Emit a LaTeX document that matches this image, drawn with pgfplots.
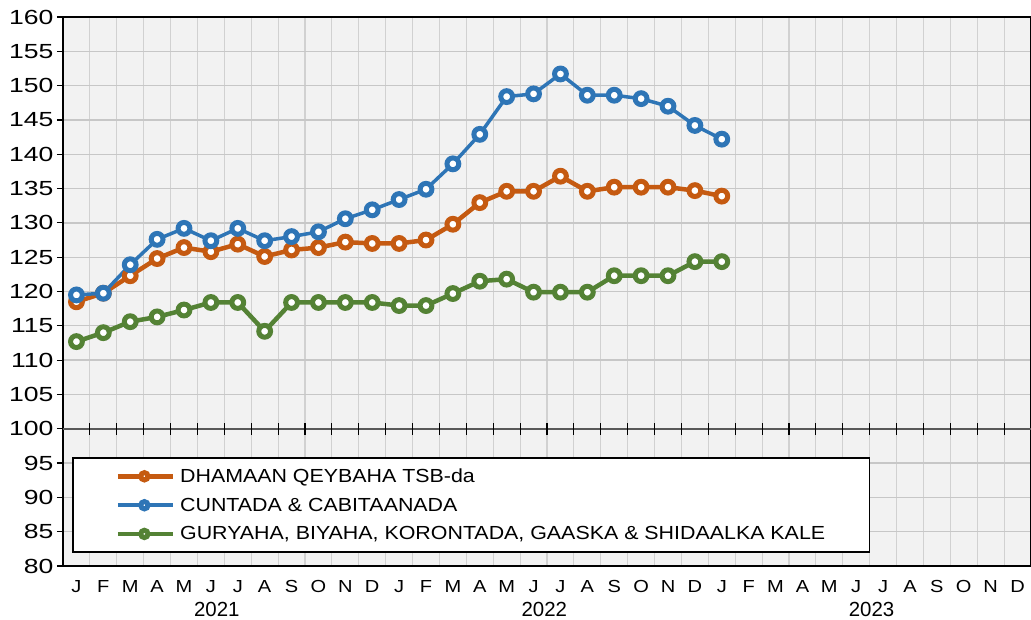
\documentclass[border=0pt]{standalone}
\usepackage{fontspec}
\setmainfont{Liberation Sans}
\usepackage{graphicx}
\usepackage{pgfplots}
\pgfplotsset{compat=1.18}
\definecolor{orangeS}{HTML}{C55A11}
\definecolor{blueS}{HTML}{2E75B6}
\definecolor{greenS}{HTML}{548235}
\definecolor{plotbg}{HTML}{F2F2F2}
\newcommand\mo[1]{\scalebox{1.15}[1]{#1}}
\newcommand\legtext[1]{\hspace{3bp}\scalebox{1.13}[1]{#1}}

\begin{document}
\begin{tikzpicture}
\useasboundingbox (-63bp,-54bp) rectangle (968bp,566bp);
\begin{axis}[
  at={(0,0)}, anchor=south west,
  width=968bp, height=549bp, scale only axis,
  xmin=0, xmax=36, ymin=80, ymax=160,
  clip=false,
  axis background/.style={fill=plotbg},
  axis line style={black, line width=1.3bp},
  xtick={0.5,1.5,...,35.5},
  xticklabels={\mo{J},\mo{F},\mo{M},\mo{A},\mo{M},\mo{J},\mo{J},\mo{A},\mo{S},\mo{O},\mo{N},\mo{D},
               \mo{J},\mo{F},\mo{M},\mo{A},\mo{M},\mo{J},\mo{J},\mo{A},\mo{S},\mo{O},\mo{N},\mo{D},
               \mo{J},\mo{F},\mo{M},\mo{A},\mo{M},\mo{J},\mo{J},\mo{A},\mo{S},\mo{O},\mo{N},\mo{D}},
  major x tick style={draw=none},
  minor xtick={1,...,35},
  xminorgrids=true,
  minor x tick style={draw=none},
  minor grid style={draw=black!18, line width=1.1bp},
  ytick={80,85,...,160},
  yticklabel={\scalebox{1.3}[1]{\pgfmathprintnumber{\tick}}},
  ymajorgrids=true,
  major grid style={draw=black!22, line width=1.3bp},
  tick align=outside,
  major tick length=6bp,
  ytick style={black, line width=1.2bp},
  /pgf/number format/assume math mode=true,
  yticklabel style={font=\fontsize{20.5}{24}\selectfont, xshift=0bp},
  xticklabel style={font=\fontsize{17.5}{20}\selectfont, yshift=-5bp},
  legend cell align=left,
  legend style={draw=none, fill=none, at={(axis cs:1.95,94.5)}, anchor=north west,
    font=\fontsize{19}{22}\selectfont, row sep=10bp, inner sep=0pt},
  legend image code/.code={\draw[mark repeat=2,mark phase=2,#1,every mark/.append style={scale=0.62}] plot coordinates {(0bp,0bp) (26.5bp,0bp) (55bp,0bp)};},
]
\draw[black!65, line width=2bp] (axis cs:0,100) -- (axis cs:36,100);
\pgfplotsinvokeforeach{1,...,35}{\draw[black, line width=1.1bp] (axis cs:#1,99.1) -- (axis cs:#1,100.9);}
\draw[black, line width=1.5bp, fill=white] (axis cs:0.37,95.74) rectangle (axis cs:30.0,82.04);

\addplot[orangeS, line width=4.5bp, mark=*, mark size=5.9bp,
  mark options={fill=white, draw=orangeS, line width=5bp}]
  coordinates {(0.5,118.5)(1.5,119.75)(2.5,122.3)(3.5,124.8)(4.5,126.4)(5.5,125.8)(6.5,126.9)(7.5,125.1)(8.5,126.05)(9.5,126.4)(10.5,127.2)(11.5,127.0)(12.5,127.0)(13.5,127.5)(14.5,129.8)(15.5,132.95)(16.5,134.6)(17.5,134.6)(18.5,136.8)(19.5,134.6)(20.5,135.2)(21.5,135.2)(22.5,135.2)(23.5,134.7)(24.5,133.9)};
\addlegendentry{\legtext{DHAMAAN QEYBAHA TSB-da}}

\addplot[blueS, line width=3.5bp, mark=*, mark size=5.9bp,
  mark options={fill=white, draw=blueS, line width=5bp}]
  coordinates {(0.5,119.5)(1.5,119.75)(2.5,123.9)(3.5,127.6)(4.5,129.2)(5.5,127.4)(6.5,129.2)(7.5,127.4)(8.5,128.0)(9.5,128.7)(10.5,130.6)(11.5,131.9)(12.5,133.4)(13.5,134.9)(14.5,138.6)(15.5,142.9)(16.5,148.4)(17.5,148.8)(18.5,151.7)(19.5,148.6)(20.5,148.6)(21.5,148.1)(22.5,147.0)(23.5,144.2)(24.5,142.2)};
\addlegendentry{\legtext{CUNTADA \& CABITAANADA}}

\addplot[greenS, line width=4.5bp, mark=*, mark size=5.9bp,
  mark options={fill=white, draw=greenS, line width=5bp}]
  coordinates {(0.5,112.7)(1.5,114.0)(2.5,115.6)(3.5,116.3)(4.5,117.3)(5.5,118.4)(6.5,118.4)(7.5,114.2)(8.5,118.4)(9.5,118.4)(10.5,118.4)(11.5,118.4)(12.5,117.95)(13.5,117.95)(14.5,119.7)(15.5,121.5)(16.5,121.8)(17.5,119.9)(18.5,119.9)(19.5,119.9)(20.5,122.3)(21.5,122.3)(22.5,122.3)(23.5,124.35)(24.5,124.35)};
\addlegendentry{\legtext{GURYAHA, BIYAHA, KORONTADA, GAASKA \& SHIDAALKA KALE}}

\node[font=\fontsize{20.5}{24}\selectfont, anchor=center] at (axis cs:5.72,80) [yshift=-43bp] {2021};
\node[font=\fontsize{20.5}{24}\selectfont, anchor=center] at (axis cs:17.9,80) [yshift=-43bp] {2022};
\node[font=\fontsize{20.5}{24}\selectfont, anchor=center] at (axis cs:30.07,80) [yshift=-43bp] {2023};
\end{axis}
\end{tikzpicture}
\end{document}
